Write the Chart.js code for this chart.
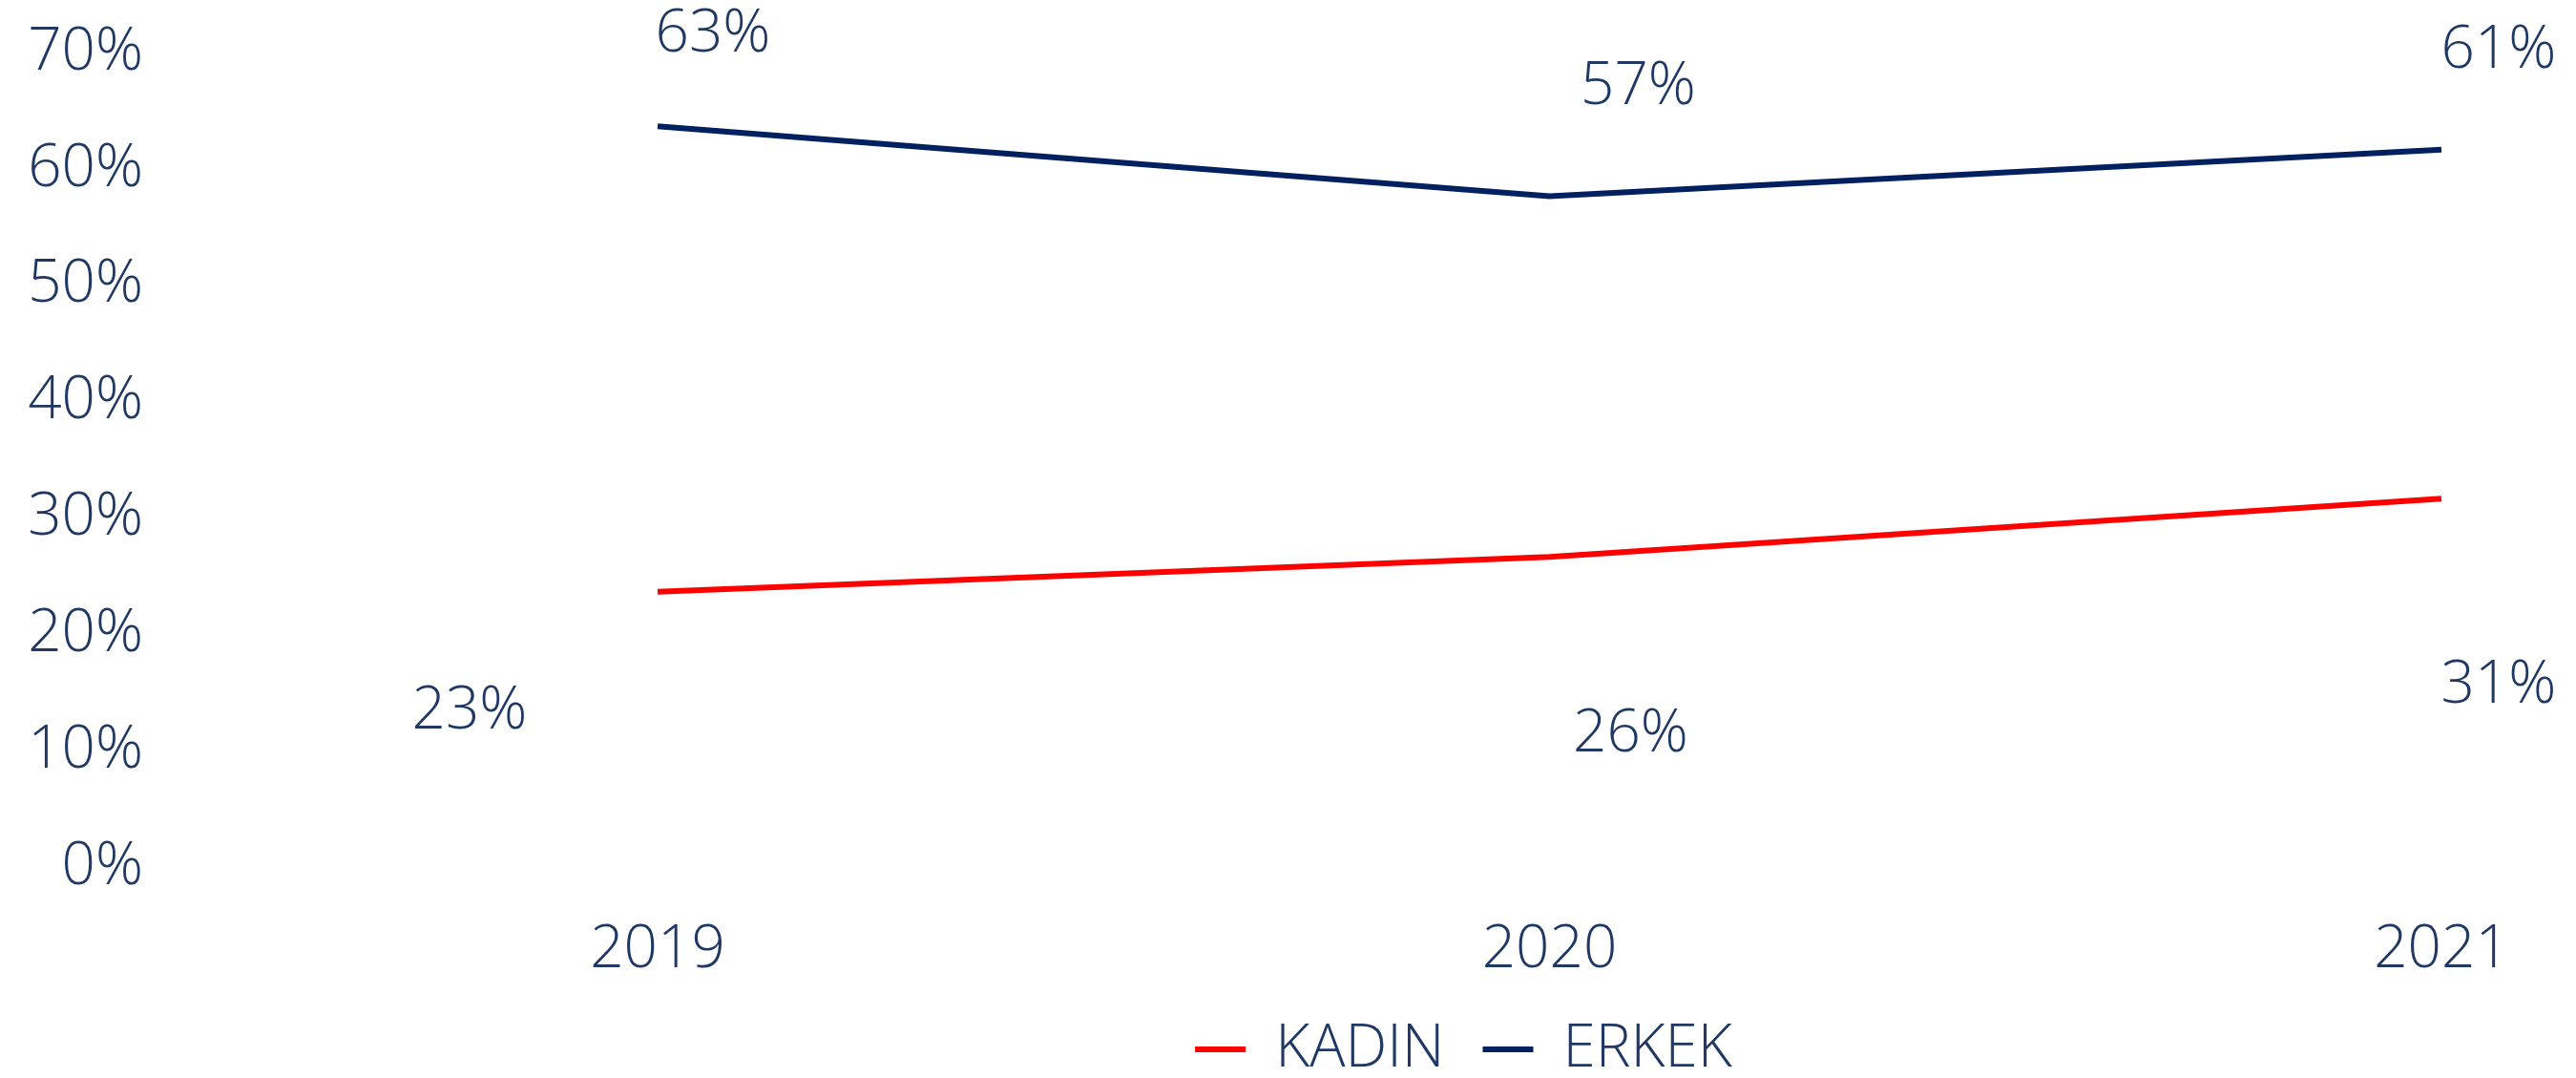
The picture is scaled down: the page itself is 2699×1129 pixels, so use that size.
<!DOCTYPE html>
<html>
<head>
<meta charset="utf-8">
<script src="https://cdn.jsdelivr.net/npm/chart.js@4.4.1/dist/chart.umd.min.js"></script>
<style>
  html, body { margin: 0; padding: 0; background: #fff; }
</style>
</head>
<body>
<canvas id="grafica" width="2699" height="1129"></canvas>
<script>
// Veriler
const years = ['2019', '2020', '2021'];
const kadin = [23, 26, 31];
const erkek = [63, 57, 61];
const yMin = 0;
const yMax = 70;
const yStep = 10;

const textColor = '#1f3864';
const fontFamily = "'Open Sans', 'Noto Sans', sans-serif";
const font = { family: fontFamily, size: 62, weight: '300' };

// Yüzde etiketlerini noktaların yanına yaz
const etiketler = {
    id: 'etiketler',
    afterDatasetsDraw(chart) {
        const ctx = chart.ctx;
        ctx.save();
        ctx.font = '300 62px ' + fontFamily;
        ctx.fillStyle = textColor;
        ctx.textAlign = 'center';
        ctx.textBaseline = 'middle';
        chart.data.datasets.forEach((ds, i) => {
            chart.getDatasetMeta(i).data.forEach((pt, j) => {
                const off = ds.labelOffsets[j];
                ctx.fillText(ds.data[j] + '%', pt.x + off[0], pt.y + off[1]);
            });
        });
        ctx.restore();
    }
};

// Lejantı biraz sola kaydır
const lejantKaydir = {
    id: 'lejantKaydir',
    afterLayout(chart) {
        chart.legend.left -= 90;
        chart.legend.right -= 90;
    }
};

function setupChart() {
    const ctx = document.getElementById('grafica').getContext('2d');
    new Chart(ctx, {
        type: 'line',
        data: {
            labels: years,
            datasets: [{
                label: 'KADIN',
                data: kadin,
                borderColor: '#ff0000',
                backgroundColor: '#ff0000',
                borderWidth: 6,
                pointRadius: 0,
                tension: 0,
                labelOffsets: [[-197, 126], [85, 186], [60, 196]]
            }, {
                label: 'ERKEK',
                data: erkek,
                borderColor: '#002060',
                backgroundColor: '#002060',
                borderWidth: 6,
                pointRadius: 0,
                tension: 0,
                labelOffsets: [[58, -96], [93, -114], [60, -103]]
            }]
        },
        options: {
            responsive: false,
            animation: false,
            layout: {
                padding: { top: 47, right: 141, bottom: -11, left: 0 }
            },
            plugins: {
                tooltip: { enabled: false },
                legend: {
                    position: 'bottom',
                    fullSize: false,
                    labels: {
                        color: textColor,
                        font: font,
                        boxWidth: 53,
                        boxHeight: 6,
                        padding: 40,
                        generateLabels: (chart) =>
                            Chart.defaults.plugins.legend.labels.generateLabels(chart)
                                .map(l => Object.assign(l, { lineWidth: 0, fillStyle: l.strokeStyle }))
                    }
                }
            },
            scales: {
                x: {
                    offset: false,
                    grid: { display: false, drawTicks: false },
                    border: { display: false },
                    ticks: { color: textColor, font: font, padding: 58, maxRotation: 0 },
                    afterFit: (scale) => { scale.height = 128; }
                },
                y: {
                    min: yMin,
                    max: yMax,
                    weight: 1,
                    grid: { display: false, drawTicks: false },
                    border: { display: false },
                    ticks: {
                        stepSize: yStep,
                        color: textColor,
                        font: font,
                        padding: 0,
                        labelOffset: 8,
                        autoSkip: false,
                        callback: (v) => v + '%'
                    },
                    afterFit: (scale) => { scale.width = 150; }
                },
                // etiketler ile grafik arasındaki boşluk
                bosluk: {
                    type: 'linear',
                    position: 'left',
                    weight: 0,
                    grid: { display: false, drawTicks: false },
                    border: { display: false },
                    ticks: { display: false },
                    afterFit: (scale) => { scale.width = 539; }
                }
            }
        },
        plugins: [etiketler, lejantKaydir]
    });
}

document.addEventListener('DOMContentLoaded', setupChart);
</script>
</body>
</html>
